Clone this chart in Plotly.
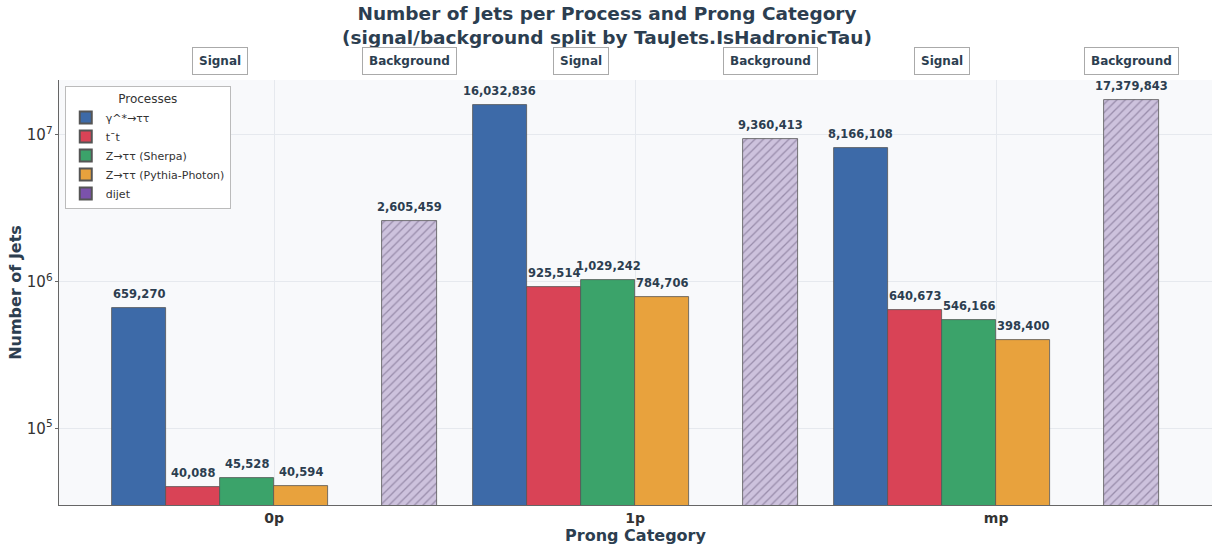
import math
import plotly.graph_objects as go

# Categories and per-process jet counts
categories = ["0p", "1p", "mp"]
processes = ["γ^*→ττ", "t¯t", "Z→ττ (Sherpa)", "Z→ττ (Pythia-Photon)", "dijet"]
gamma_tautau = [659270, 16032836, 8166108]
ttbar = [40088, 925514, 640673]
z_sherpa = [45528, 1029242, 546166]
z_pythia = [40594, 784706, 398400]
dijet = [2605459, 9360413, 17379843]

signal_series = [gamma_tautau, ttbar, z_sherpa, z_pythia]
colors = ["#3d6aa8", "#d94356", "#3ba36a", "#e8a23d", "#7b52ab"]

bar_w = 0.15
signal_offsets = [-2.5 * bar_w, -1.5 * bar_w, -0.5 * bar_w, 0.5 * bar_w]
bkg_offset = 2.5 * bar_w
text_col = "#2c3e50"
font_family = "DejaVu Sans"

fig = go.Figure()
annotations = []


def value_label(x, v):
    # annotations on a log axis take log10 coordinates
    return dict(x=x, y=math.log10(v), yref="y", xref="x", text=f"<b>{v:,}</b>",
                showarrow=False, yanchor="bottom", yshift=5,
                font=dict(size=11.5, color=text_col, family=font_family))


for name, vals, off, col in zip(processes[:4], signal_series, signal_offsets, colors[:4]):
    xs = [i + off for i in range(len(categories))]
    fig.add_trace(go.Bar(
        x=xs, y=vals, width=bar_w, name=name,
        marker=dict(color=col, line=dict(color="#555555", width=0.8)),
    ))
    annotations += [value_label(x, v) for x, v in zip(xs, vals)]

# Background (dijet) bars with hatching
xs_bkg = [i + bkg_offset for i in range(len(categories))]
fig.add_trace(go.Bar(
    x=xs_bkg, y=dijet, width=bar_w, name=processes[4], showlegend=False,
    marker=dict(color="#cdc2dd", line=dict(color="#555555", width=0.8),
                pattern=dict(shape="/", fgcolor="#66577a", bgcolor="#cdc2dd",
                             size=6, solidity=0.22)),
))
annotations += [value_label(x, v) for x, v in zip(xs_bkg, dijet)]

# Legend entry for dijet drawn as a solid swatch
fig.add_trace(go.Bar(
    x=[xs_bkg[0]], y=[None], width=bar_w, name=processes[4],
    marker=dict(color=colors[4], line=dict(color="#555555", width=0.8)),
))

# Signal / Background group labels above the plot area
for i in range(len(categories)):
    sig_center = i + sum(signal_offsets) / len(signal_offsets)
    for x, lab in [(sig_center, "Signal"), (i + bkg_offset, "Background")]:
        annotations.append(dict(x=x, xref="x", y=1.045, yref="paper", text=f"<b>{lab}</b>",
                                showarrow=False, yanchor="middle",
                                bgcolor="white", bordercolor="#aaaaaa", borderwidth=1,
                                borderpad=6,
                                font=dict(size=12, color=text_col, family=font_family)))

fig.update_layout(
    width=1214, height=546,
    margin=dict(l=59, r=2, t=80, b=41),
    paper_bgcolor="white",
    plot_bgcolor="#f8f9fb",
    font=dict(family=font_family, color="#333333"),
    title=dict(text="<b>Number of Jets per Process and Prong Category<br>(signal/background split by TauJets.IsHadronicTau)</b>",
               x=0.5, xanchor="center", y=1 - 20 / 546, yanchor="middle",
               font=dict(size=18.5, color=text_col, family=font_family)),
    barmode="overlay",
    bargap=0,
    showlegend=True,
    legend=dict(x=0.005, y=0.985, xanchor="left", yanchor="top",
                bgcolor="white", bordercolor="#bbbbbb", borderwidth=1,
                title=dict(text="Processes", side="top center",
                           font=dict(size=12, color="#333333", family=font_family)),
                font=dict(size=11, color="#333333", family=font_family),
                itemsizing="constant", tracegroupgap=0),
    annotations=annotations,
)

fig.update_xaxes(
    range=[-0.596, 2.598], tickmode="array", tickvals=[0, 1, 2],
    ticktext=[f"<b>{c}</b>" for c in categories],
    tickfont=dict(size=14, color="#333333", family=font_family),
    title=dict(text="<b>Prong Category</b>", standoff=2,
               font=dict(size=16, color=text_col, family=font_family)),
    showgrid=True, gridcolor="#e6e9ee", gridwidth=1,
    showline=True, linecolor="#666666", linewidth=1, zeroline=False,
    ticks="", ticklen=0,
)
fig.update_yaxes(
    type="log", range=[4.477, 7.375], dtick=1, exponentformat="power",
    tickfont=dict(size=12, color="#333333", family=font_family),
    title=dict(text="<b>Number of Jets</b>", standoff=1,
               font=dict(size=16, color=text_col, family=font_family)),
    showgrid=True, gridcolor="#e6e9ee", gridwidth=1,
    showline=True, linecolor="#666666", linewidth=1, zeroline=False,
    ticks="outside", ticklen=3, tickcolor="#666666",
)

fig.write_html("out.html")
